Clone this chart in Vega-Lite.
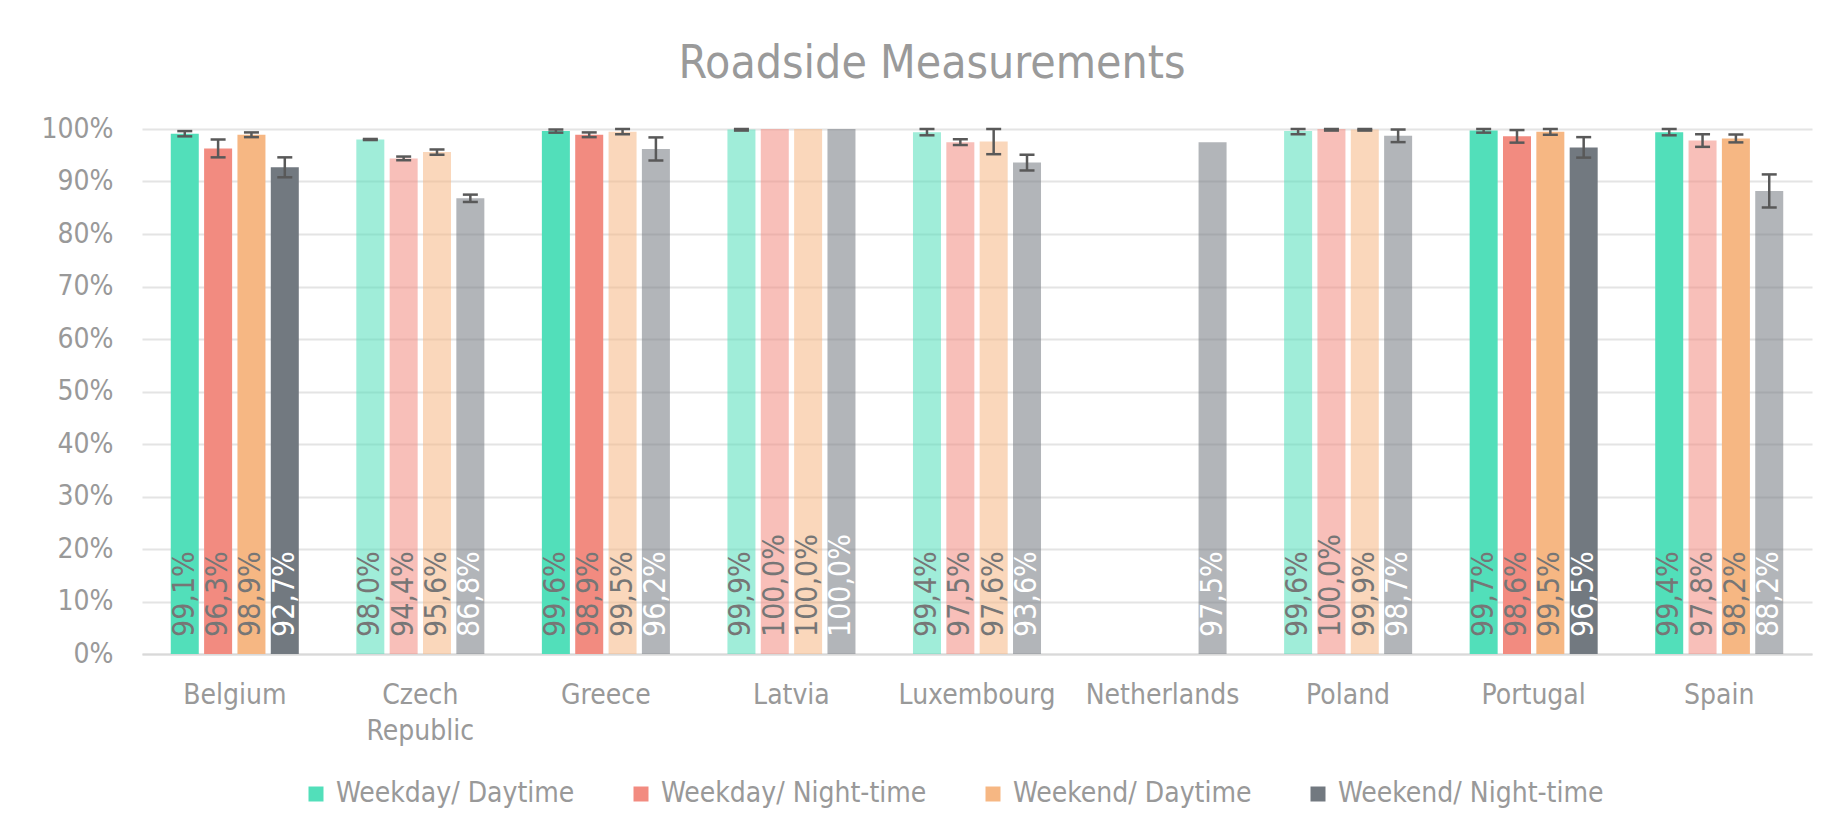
{
  "$schema": "https://vega.github.io/schema/vega-lite/v6.json",
  "width": 1670,
  "height": 525,
  "autosize": {"type": "none"},
  "padding": {"left": 142, "top": 129, "right": 31, "bottom": 182},
  "background": "white",
  "title": {
    "text": "Roadside Measurements",
    "fontSize": 46,
    "font": "DejaVu Sans Condensed, DejaVu Sans",
    "fontWeight": "normal",
    "color": "#9a9a9a",
    "anchor": "middle",
    "dx": -45,
    "baseline": "alphabetic",
    "offset": -9
  },
  "data": {
    "values": [
      {"country": "Belgium", "series": "Weekday/ Daytime", "value": 0.991, "lo": 0.986, "hi": 0.996, "label": "99,1%", "faded": false},
      {"country": "Belgium", "series": "Weekday/ Night-time", "value": 0.963, "lo": 0.946, "hi": 0.980, "label": "96,3%", "faded": false},
      {"country": "Belgium", "series": "Weekend/ Daytime", "value": 0.989, "lo": 0.9845, "hi": 0.9935, "label": "98,9%", "faded": false},
      {"country": "Belgium", "series": "Weekend/ Night-time", "value": 0.927, "lo": 0.908, "hi": 0.946, "label": "92,7%", "faded": false},
      {"country": "Czech Republic", "series": "Weekday/ Daytime", "value": 0.980, "lo": 0.979, "hi": 0.981, "label": "98,0%", "faded": true},
      {"country": "Czech Republic", "series": "Weekday/ Night-time", "value": 0.944, "lo": 0.9405, "hi": 0.9475, "label": "94,4%", "faded": true},
      {"country": "Czech Republic", "series": "Weekend/ Daytime", "value": 0.956, "lo": 0.951, "hi": 0.961, "label": "95,6%", "faded": true},
      {"country": "Czech Republic", "series": "Weekend/ Night-time", "value": 0.868, "lo": 0.861, "hi": 0.875, "label": "86,8%", "faded": true},
      {"country": "Greece", "series": "Weekday/ Daytime", "value": 0.996, "lo": 0.993, "hi": 0.999, "label": "99,6%", "faded": false},
      {"country": "Greece", "series": "Weekday/ Night-time", "value": 0.989, "lo": 0.9845, "hi": 0.9935, "label": "98,9%", "faded": false},
      {"country": "Greece", "series": "Weekend/ Daytime", "value": 0.995, "lo": 0.990, "hi": 1.0, "label": "99,5%", "faded": true},
      {"country": "Greece", "series": "Weekend/ Night-time", "value": 0.962, "lo": 0.940, "hi": 0.984, "label": "96,2%", "faded": true},
      {"country": "Latvia", "series": "Weekday/ Daytime", "value": 0.999, "lo": 0.997, "hi": 1.0, "label": "99,9%", "faded": true},
      {"country": "Latvia", "series": "Weekday/ Night-time", "value": 1.0, "lo": null, "hi": null, "label": "100,0%", "faded": true},
      {"country": "Latvia", "series": "Weekend/ Daytime", "value": 1.0, "lo": null, "hi": null, "label": "100,0%", "faded": true},
      {"country": "Latvia", "series": "Weekend/ Night-time", "value": 1.0, "lo": null, "hi": null, "label": "100,0%", "faded": true},
      {"country": "Luxembourg", "series": "Weekday/ Daytime", "value": 0.994, "lo": 0.988, "hi": 1.0, "label": "99,4%", "faded": true},
      {"country": "Luxembourg", "series": "Weekday/ Night-time", "value": 0.975, "lo": 0.9695, "hi": 0.9805, "label": "97,5%", "faded": true},
      {"country": "Luxembourg", "series": "Weekend/ Daytime", "value": 0.976, "lo": 0.952, "hi": 1.0, "label": "97,6%", "faded": true},
      {"country": "Luxembourg", "series": "Weekend/ Night-time", "value": 0.936, "lo": 0.921, "hi": 0.951, "label": "93,6%", "faded": true},
      {"country": "Netherlands", "series": "Weekend/ Night-time", "value": 0.975, "lo": null, "hi": null, "label": "97,5%", "faded": true},
      {"country": "Poland", "series": "Weekday/ Daytime", "value": 0.996, "lo": 0.990, "hi": 1.0, "label": "99,6%", "faded": true},
      {"country": "Poland", "series": "Weekday/ Night-time", "value": 1.0, "lo": 0.997, "hi": 1.0, "label": "100,0%", "faded": true},
      {"country": "Poland", "series": "Weekend/ Daytime", "value": 0.999, "lo": 0.997, "hi": 1.0, "label": "99,9%", "faded": true},
      {"country": "Poland", "series": "Weekend/ Night-time", "value": 0.987, "lo": 0.975, "hi": 0.999, "label": "98,7%", "faded": true},
      {"country": "Portugal", "series": "Weekday/ Daytime", "value": 0.997, "lo": 0.993, "hi": 1.0, "label": "99,7%", "faded": false},
      {"country": "Portugal", "series": "Weekday/ Night-time", "value": 0.986, "lo": 0.974, "hi": 0.998, "label": "98,6%", "faded": false},
      {"country": "Portugal", "series": "Weekend/ Daytime", "value": 0.995, "lo": 0.989, "hi": 1.0, "label": "99,5%", "faded": false},
      {"country": "Portugal", "series": "Weekend/ Night-time", "value": 0.965, "lo": 0.9455, "hi": 0.9845, "label": "96,5%", "faded": false},
      {"country": "Spain", "series": "Weekday/ Daytime", "value": 0.994, "lo": 0.988, "hi": 1.0, "label": "99,4%", "faded": false},
      {"country": "Spain", "series": "Weekday/ Night-time", "value": 0.978, "lo": 0.966, "hi": 0.990, "label": "97,8%", "faded": true},
      {"country": "Spain", "series": "Weekend/ Daytime", "value": 0.982, "lo": 0.9745, "hi": 0.9895, "label": "98,2%", "faded": false},
      {"country": "Spain", "series": "Weekend/ Night-time", "value": 0.882, "lo": 0.8505, "hi": 0.9135, "label": "88,2%", "faded": true}
    ]
  },
  "encoding": {
    "x": {
      "field": "country",
      "type": "nominal",
      "sort": ["Belgium", "Czech Republic", "Greece", "Latvia", "Luxembourg", "Netherlands", "Poland", "Portugal", "Spain"],
      "scale": {"paddingInner": 0.31, "paddingOuter": 0.155},
      "axis": {
        "title": null,
        "labelAngle": 0,
        "ticks": false,
        "grid": false,
        "domainColor": "#d9d9d9",
        "domainWidth": 2,
        "labelFont": "DejaVu Sans Condensed, DejaVu Sans",
        "labelFontSize": 28,
        "labelColor": "#999999",
        "labelPadding": 27,
        "labelLineHeight": 36,
        "labelExpr": "datum.label == 'Czech Republic' ? ['Czech', 'Republic'] : datum.label"
      }
    },
    "xOffset": {
      "field": "series",
      "type": "nominal",
      "sort": ["Weekday/ Daytime", "Weekday/ Night-time", "Weekend/ Daytime", "Weekend/ Night-time"],
      "scale": {"paddingInner": 0.16, "paddingOuter": 0}
    }
  },
  "layer": [
    {
      "mark": {"type": "bar"},
      "encoding": {
        "y": {
          "field": "value",
          "type": "quantitative",
          "stack": null,
          "scale": {"domain": [0, 1], "nice": false},
          "axis": {
            "title": null,
            "values": [0, 0.1, 0.2, 0.3, 0.4, 0.5, 0.6, 0.7, 0.8, 0.9, 1],
            "format": ".0%",
            "domain": false,
            "ticks": false,
            "labelFont": "DejaVu Sans Condensed, DejaVu Sans",
            "labelFontSize": 28,
            "labelColor": "#999999",
            "labelPadding": 29,
            "gridColor": "#e4e4e4",
            "gridWidth": 2
          }
        },
        "color": {
          "field": "series",
          "type": "nominal",
          "sort": ["Weekday/ Daytime", "Weekday/ Night-time", "Weekend/ Daytime", "Weekend/ Night-time"],
          "scale": {
            "domain": ["Weekday/ Daytime", "Weekday/ Night-time", "Weekend/ Daytime", "Weekend/ Night-time"],
            "range": ["#52dfba", "#f28b80", "#f6b783", "#727980"]
          },
          "legend": {
            "orient": "none",
            "legendX": 160,
            "legendY": 651,
            "direction": "horizontal",
            "title": null,
            "symbolType": "square",
            "symbolSize": 225,
            "symbolStrokeWidth": 0,
            "labelFont": "DejaVu Sans Condensed, DejaVu Sans",
            "labelFontSize": 28,
            "labelColor": "#999999",
            "labelLimit": 500,
            "labelOffset": 6,
            "columnPadding": 52
          }
        },
        "opacity": {
          "field": "faded",
          "type": "nominal",
          "scale": {"domain": [true, false], "range": [0.55, 1]},
          "legend": null
        }
      }
    },
    {
      "mark": {"type": "rule", "color": "#595959", "strokeWidth": 2.5},
      "encoding": {
        "y": {"field": "lo", "type": "quantitative"},
        "y2": {"field": "hi"}
      }
    },
    {
      "mark": {"type": "tick", "color": "#595959", "size": 15, "thickness": 2.5, "opacity": 1},
      "encoding": {"y": {"field": "lo", "type": "quantitative"}}
    },
    {
      "mark": {"type": "tick", "color": "#595959", "size": 15, "thickness": 2.5, "opacity": 1},
      "encoding": {"y": {"field": "hi", "type": "quantitative"}}
    },
    {
      "mark": {
        "type": "text",
        "angle": 270,
        "align": "left",
        "baseline": "middle",
        "dx": 17,
        "fontSize": 30,
        "font": "DejaVu Sans Condensed, DejaVu Sans"
      },
      "encoding": {
        "y": {"datum": 0, "type": "quantitative"},
        "text": {"field": "label"},
        "color": {
          "condition": {"test": "datum.series === 'Weekend/ Night-time'", "value": "#ffffff"},
          "value": "#767676"
        }
      }
    }
  ],
  "config": {
    "view": {"stroke": null}
  }
}
